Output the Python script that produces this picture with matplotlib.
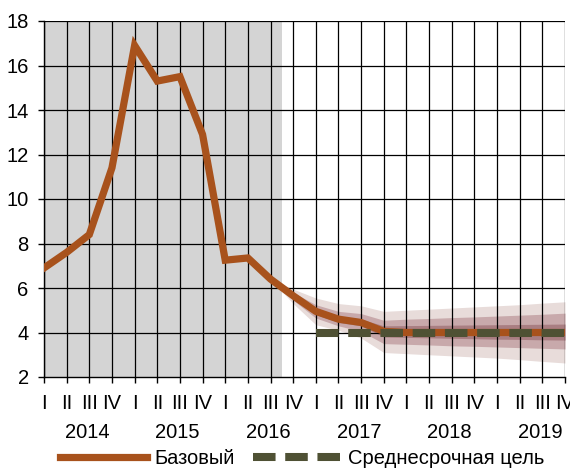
import matplotlib
matplotlib.use("Agg")
import matplotlib.pyplot as plt
import matplotlib.font_manager as fm
from matplotlib.lines import Line2D
import numpy as np

# данные: ключевой показатель по кварталам, 2014 Q1 - 2019 Q4
quarters = ["I", "II", "III", "IV"] * 6
years = ["2014", "2015", "2016", "2017", "2018", "2019"]
base = [6.9, 7.6, 8.4, 11.4, 16.9, 15.3, 15.5, 12.9, 7.25, 7.35, 6.4, 5.65, 4.95,
        4.6, 4.45, 4.05, 4.0, 4.0, 4.0, 4.0, 4.0, 4.0, 4.0, 4.0]
target = [4.0] * 12  # с 2017 Q1
target_start = 12
shade_end = 10.5

# интервалы веера (начиная с 2016 Q3)
fan_start = 10
outer_hi = [6.4, 5.95, 5.55, 5.3, 5.2, 4.95, 5.0, 5.05, 5.1, 5.15, 5.2, 5.25, 5.32, 5.38]
outer_lo = [6.4, 5.3, 4.35, 4.1, 3.75, 3.1, 3.05, 3.0, 2.95, 2.9, 2.85, 2.78, 2.7, 2.63]
mid_hi = [6.4, 5.8, 5.25, 4.95, 4.85, 4.55, 4.6, 4.63, 4.67, 4.7, 4.74, 4.78, 4.82, 4.87]
mid_lo = [6.4, 5.45, 4.65, 4.3, 4.05, 3.5, 3.47, 3.44, 3.4, 3.38, 3.35, 3.32, 3.29, 3.26]
in_hi = [6.4, 5.72, 5.1, 4.75, 4.6, 4.3, 4.31, 4.32, 4.33, 4.34, 4.35, 4.36, 4.37, 4.38]
in_lo = [6.4, 5.58, 4.8, 4.45, 4.3, 3.8, 3.78, 3.76, 3.74, 3.72, 3.7, 3.69, 3.67, 3.66]

names = {f.name for f in fm.fontManager.ttflist}
if "Liberation Sans Narrow" in names:
    plt.rcParams["font.family"] = ["Liberation Sans Narrow", "DejaVu Sans"]
    fs = 16
else:
    plt.rcParams["font.family"] = ["Liberation Sans", "DejaVu Sans"]
    fs = 14.5

orange = "#a8521c"
olive = "#4f5134"
dash = (2.8, 1.2)

fig = plt.figure(figsize=(5.7, 4.71), dpi=100)
ax = fig.add_axes([44 / 570, 1 - 377 / 471, 521 / 570, 356 / 471])

x = np.arange(len(base))
xf = np.arange(fan_start, fan_start + len(outer_hi))

ax.axvspan(0, shade_end, color="#d4d4d4", lw=0, zorder=0)
ax.fill_between(xf, outer_lo, outer_hi, color="#e8dcda", lw=0, zorder=1)
ax.fill_between(xf, mid_lo, mid_hi, color="#c8a9ab", lw=0, zorder=1.1)
ax.fill_between(xf, in_lo, in_hi, color="#a97e82", lw=0, zorder=1.2)

for xi in x:
    ax.axvline(xi, color="black", lw=0.9, zorder=2)
for yi in range(4, 19, 2):
    ax.axhline(yi, color="black", lw=0.9, zorder=2)

ax.plot(x, base, color=orange, lw=5.2, solid_joinstyle="miter", zorder=3)
xt = np.arange(target_start, target_start + len(target))
ax.plot(xt, target, color=olive, lw=5.8, dashes=dash,
        dash_capstyle="butt", zorder=4)

ax.set_xlim(0, 23)
ax.set_ylim(2, 18)
ax.set_yticks(range(2, 19, 2))
ax.set_xticks(x)
ax.set_xticklabels(quarters, fontsize=fs)
ax.tick_params(axis="y", labelsize=fs, length=4, width=1, pad=7)
ax.tick_params(axis="x", length=4.3, width=1, pad=8)
for s in ["top", "right"]:
    ax.spines[s].set_visible(False)
for s in ["left", "bottom"]:
    ax.spines[s].set_linewidth(1)

for i, yr in enumerate(years):
    ax.text(1.9 + 4 * i, -0.155, yr, transform=ax.get_xaxis_transform(),
            ha="center", va="center", fontsize=fs)

handles = [Line2D([], [], color=orange, lw=5.2),
           Line2D([], [], color=olive, lw=5.8, dashes=dash, dash_capstyle="butt")]
fig.legend(handles, ["Базовый", "Среднесрочная цель"], loc="center",
           bbox_to_anchor=(0.53, 0.026), ncol=2, frameon=False, fontsize=fs,
           handlelength=4.3, handletextpad=0.4, columnspacing=0.9)

fig.savefig("out.png", dpi=100)
